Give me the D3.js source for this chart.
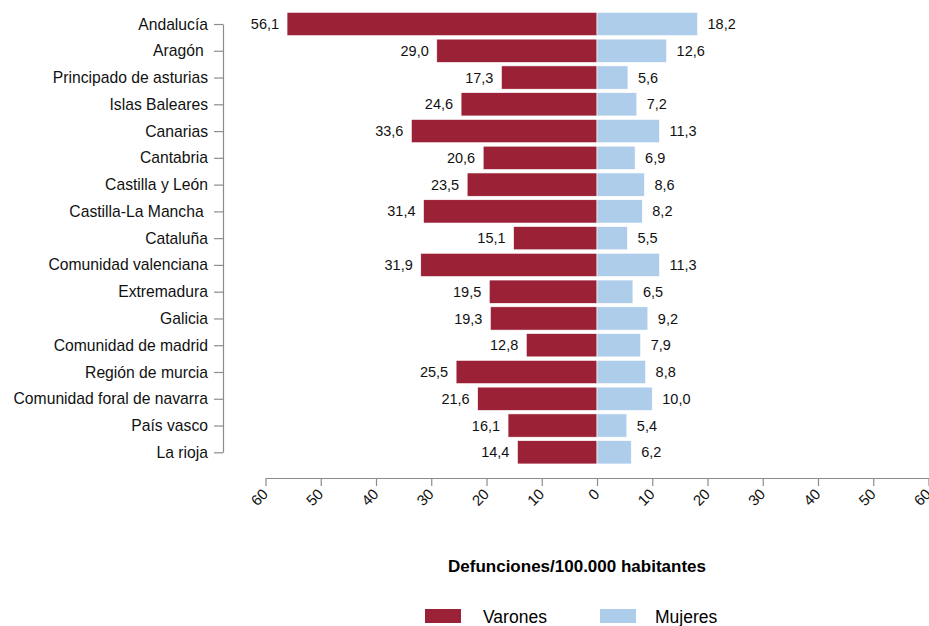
<!DOCTYPE html>
<html>
<head>
<meta charset="utf-8">
<script src="https://cdn.jsdelivr.net/npm/d3@7"></script>
<style>
  body { margin: 0; background: #fff; }
  svg { font-family: "Liberation Sans", Arial, sans-serif; }
  .axis path, .axis line { stroke: #8c8c8c; stroke-width: 1.2; }
  .axis text { font-size: 15px; fill: #111; }
  .yaxis text { font-size: 15.7px; white-space: pre; }
  .val { font-size: 14.5px; fill: #111; }
</style>
</head>
<body>
<svg width="929" height="626"></svg>
<script>
// Data
var regions = ["Andalucía", "Aragón ", "Principado de asturias", "Islas Baleares", "Canarias",
  "Cantabria", "Castilla y León", "Castilla-La Mancha ", "Cataluña", "Comunidad valenciana",
  "Extremadura", "Galicia", "Comunidad de madrid", "Región de murcia",
  "Comunidad foral de navarra", "País vasco", "La rioja"];
var varones = [56.1, 29.0, 17.3, 24.6, 33.6, 20.6, 23.5, 31.4, 15.1, 31.9, 19.5, 19.3, 12.8, 25.5, 21.6, 16.1, 14.4];
var mujeres = [18.2, 12.6, 5.6, 7.2, 11.3, 6.9, 8.6, 8.2, 5.5, 11.3, 6.5, 9.2, 7.9, 8.8, 10.0, 5.4, 6.2];
var ticks = [-60, -50, -40, -30, -20, -10, 0, 10, 20, 30, 40, 50, 60];
var seriesNames = ["Varones", "Mujeres"];

// Layout
var colorV = "#9b2236",
    colorM = "#aecdeb",
    axisX = 223,
    axisY = 478,
    barFrac = 0.87;

var svg = d3.select("svg");

var x = d3.scaleLinear().domain([-60, 60]).range([265.5, 928.5]);
var y = d3.scalePoint().domain(regions).range([24, 452.3]);
var barH = y.step() * barFrac;
var fmt = function (v) { return d3.format(".1f")(v).replace(".", ","); };

var rows = regions.map(function (r, i) {
  return {name: r, v: varones[i], m: mujeres[i]};
});

// bars
svg.append("g").selectAll("rect")
  .data(rows)
  .enter().append("rect")
  .attr("x", function (d) { return x(-d.v); })
  .attr("y", function (d) { return y(d.name) - barH / 2; })
  .attr("width", function (d) { return x(0) - x(-d.v); })
  .attr("height", barH)
  .attr("fill", colorV)
  .attr("stroke", "#fff")
  .attr("stroke-width", 0.6);

svg.append("g").selectAll("rect")
  .data(rows)
  .enter().append("rect")
  .attr("x", x(0))
  .attr("y", function (d) { return y(d.name) - barH / 2; })
  .attr("width", function (d) { return x(d.m) - x(0); })
  .attr("height", barH)
  .attr("fill", colorM)
  .attr("stroke", "#fff")
  .attr("stroke-width", 0.6);

// value labels
svg.append("g").selectAll("text")
  .data(rows)
  .enter().append("text")
  .classed("val", true)
  .attr("x", function (d) { return x(-d.v) - 8; })
  .attr("y", function (d) { return y(d.name); })
  .attr("dy", "0.35em")
  .attr("text-anchor", "end")
  .text(function (d) { return fmt(d.v); });

svg.append("g").selectAll("text")
  .data(rows)
  .enter().append("text")
  .classed("val", true)
  .attr("x", function (d) { return x(d.m) + 10; })
  .attr("y", function (d) { return y(d.name); })
  .attr("dy", "0.35em")
  .text(function (d) { return fmt(d.m); });

// axes
svg.append("g")
  .classed("axis yaxis", true)
  .attr("transform", "translate(" + [axisX, 0] + ")")
  .call(d3.axisLeft(y).tickSize(9).tickSizeOuter(0).tickPadding(6))
  .selectAll("text").attr("xml:space", "preserve");

svg.append("g")
  .classed("axis", true)
  .attr("transform", "translate(" + [0, axisY] + ")")
  .call(d3.axisBottom(x).tickValues(ticks).tickSize(8).tickSizeOuter(0)
    .tickFormat(function (d) { return Math.abs(d); }))
  .selectAll("text")
    .attr("text-anchor", "end")
    .attr("y", 0)
    .attr("dy", 0)
    .attr("transform", "translate(3,17) rotate(-45)");

// title
svg.append("text")
  .attr("x", 577)
  .attr("y", 572)
  .attr("text-anchor", "middle")
  .style("font-size", "17px")
  .style("font-weight", 700)
  .text("Defunciones/100.000 habitantes");

// legend
var legend = svg.append("g").selectAll("g")
  .data(seriesNames)
  .enter().append("g")
  .attr("transform", function (d, i) { return "translate(" + [425 + i * 175, 609] + ")"; });

legend.append("rect")
  .attr("width", 36)
  .attr("height", 14)
  .attr("fill", function (d, i) { return i ? colorM : colorV; });

legend.append("text")
  .attr("x", function (d, i) { return i ? 55 : 58; })
  .attr("y", 14)
  .style("font-size", "17.5px")
  .text(function (d) { return d; });
</script>
</body>
</html>
